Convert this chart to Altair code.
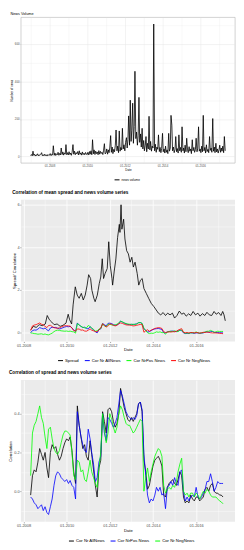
import altair as alt
import pandas as pd

FONT = "Liberation Sans"

# ---------------- data ----------------
# Panel 1: number of news, semi-monthly (1st and 15th of each month) from Jan 2007
news_volume = [
    4, 10, 3, 28, 6, 12, 2, 9, 5, 14, 3, 8, 6, 11, 20, 4, 9, 3, 12, 5, 8, 2, 10, 6,
    7, 15, 4, 12, 8, 57, 6, 18, 5, 14, 9, 22, 6, 16, 8, 45, 10, 24, 7, 19, 12, 63, 9, 20,
    8, 25, 10, 18, 6, 22, 63, 12, 28, 9, 20, 14, 26, 8, 30, 11, 19, 7, 24, 10, 17, 9, 21, 12,
    10, 22, 8, 26, 12, 30, 9, 89, 14, 35, 10, 28, 15, 24, 9, 31, 12, 27, 16, 22, 10, 33, 68, 14,
    18, 40, 12, 35, 20, 45, 111, 22, 50, 15, 38, 25, 60, 141, 30, 55, 20, 136, 28, 48, 35, 150, 40, 62,
    30, 75, 100, 45, 90, 216, 60, 300, 80, 140, 284, 70, 160, 454, 95, 130, 60, 110, 315, 75, 120, 50, 150, 40,
    85, 30, 60, 106, 25, 70, 40, 214, 35, 80, 28, 55, 45, 706, 30, 65, 22, 50, 38, 115, 26, 48, 20, 42,
    123, 25, 40, 18, 55, 22, 35, 15, 123, 28, 45, 219, 167, 30, 50, 20, 38, 106, 25, 42, 18, 115, 30, 48,
    22, 158, 30, 45, 18, 60, 25, 97, 35, 20, 52, 28, 40, 15, 89, 30, 48, 22, 36, 97, 25, 44, 158, 28,
    40, 20, 55, 25, 219, 30, 48, 18, 62, 26, 38, 20, 106, 32, 45, 22, 202, 28, 50, 20, 70, 24, 40, 18,
    35, 60, 22, 45, 28, 55, 20, 106, 30,
]

# Panel 2: mean spread (decimal year, value)
spread_year = [
    2008.34, 2008.46, 2008.59, 2008.73, 2008.87, 2009.01, 2009.10, 2009.20, 2009.31, 2009.42,
    2009.56, 2009.70, 2009.83, 2009.97, 2010.07, 2010.14, 2010.23, 2010.30, 2010.40, 2010.49,
    2010.58, 2010.68, 2010.77, 2010.86, 2010.95, 2011.02, 2011.11, 2011.17, 2011.26, 2011.32,
    2011.42, 2011.51, 2011.58, 2011.65, 2011.71, 2011.78, 2011.88, 2011.95, 2012.02, 2012.10,
    2012.13, 2012.20, 2012.28, 2012.36, 2012.44, 2012.47, 2012.52, 2012.56, 2012.64, 2012.70,
    2012.78, 2012.86, 2012.94, 2013.02, 2013.09, 2013.17, 2013.27, 2013.34, 2013.42, 2013.50,
    2013.58, 2013.69, 2013.80, 2013.92, 2014.04, 2014.15, 2014.25, 2014.36, 2014.47, 2014.58,
    2014.68, 2014.79, 2014.90, 2015.00, 2015.11, 2015.22, 2015.33, 2015.43, 2015.54, 2015.65,
    2015.75, 2015.86, 2015.97, 2016.08, 2016.18, 2016.29, 2016.40, 2016.50, 2016.61, 2016.72,
    2016.83, 2016.93, 2017.04, 2017.15, 2017.23, 2017.29, 2017.35,
]
spread_value = [
    0.12, 0.28, 0.23, 0.36, 0.31, 0.39, 0.79, 0.59, 0.48, 0.36,
    0.39, 0.28, 0.33, 0.43, 0.85, 0.59, 0.39, 1.29, 2.14, 1.75,
    1.60, 1.83, 1.52, 1.75, 2.22, 2.71, 2.53, 1.98, 1.60, 1.44,
    1.75, 2.29, 2.60, 3.46, 2.53, 2.76, 3.00, 4.26, 3.15, 2.53,
    2.22, 2.84, 3.45, 4.46, 5.08, 4.70, 6.00, 4.85, 5.32, 4.39,
    3.84, 3.69, 3.30, 3.53, 3.07, 3.30, 2.76, 2.22, 2.45, 2.53,
    2.06, 1.83, 1.60, 1.36, 1.21, 1.05, 0.90, 0.82, 0.93, 0.79,
    0.90, 0.82, 0.90, 0.67, 0.79, 1.00, 0.85, 0.91, 0.76, 0.87,
    0.79, 0.98, 0.82, 0.90, 0.76, 0.88, 0.79, 0.94, 0.82, 0.79,
    0.98, 0.85, 0.93, 0.79, 0.98, 0.82, 0.54,
]

# Correlations, monthly from May 2008
cor_allnews = [
    -0.02, 0.08, 0.11, 0.10, 0.15, 0.22, 0.19, 0.16, 0.20, 0.12, 0.07, 0.20,
    0.24, 0.22, 0.23, 0.19, 0.16, 0.18, 0.22, 0.25, 0.27, 0.26, 0.28, 0.21,
    0.10, 0.04, 0.44, 0.34, 0.28, 0.22, 0.24, 0.18, 0.16, 0.26, 0.19, 0.11,
    0.03, -0.03, 0.12, 0.16, 0.41, 0.36, 0.30, 0.42, 0.43, 0.41, 0.36, 0.33,
    0.35, 0.40, 0.53, 0.48, 0.43, 0.40, 0.37, 0.36, 0.38, 0.36, 0.38, 0.40,
    0.45, 0.46, 0.41, 0.16, 0.10, 0.01, 0.03, 0.08, 0.13, 0.16, 0.17, 0.18,
    0.16, 0.13, -0.02, -0.03, 0.02, 0.04, 0.05, 0.06, 0.04, 0.03, 0.06, 0.10,
    0.08, -0.03, -0.06, -0.05, -0.06, -0.02, -0.04, -0.05, -0.03, -0.03, -0.05, -0.04,
    -0.03, 0.01, 0.02, 0.00, 0.03, 0.04, 0.00, -0.01, -0.01, -0.02, -0.02, -0.03,
]
cor_nrpos = [
    -0.03, -0.04, -0.06, -0.07, -0.09, -0.08, -0.07, -0.10, -0.08, -0.11, -0.12, -0.08,
    -0.04, 0.03, 0.08, 0.10, 0.09, 0.07, 0.06, 0.05, 0.06, 0.04, 0.055, 0.03,
    0.02, -0.04, 0.41, 0.34, 0.28, 0.24, 0.21, 0.20, 0.32, 0.27, 0.20, 0.14,
    0.05, 0.07, 0.15, 0.18, 0.40, 0.30, 0.26, 0.38, 0.37, 0.35, 0.33, 0.35,
    0.38, 0.45, 0.52, 0.49, 0.45, 0.41, 0.39, 0.38, 0.37, 0.38, 0.37, 0.39,
    0.45, 0.46, 0.42, 0.19, 0.08, -0.02, -0.06, -0.04, -0.05, -0.02, 0.02, 0.00,
    0.02, -0.02, -0.01, -0.09, 0.02, 0.03, 0.05, 0.03, 0.07, 0.04, 0.03, 0.10,
    0.11, 0.00, -0.05, -0.03, -0.05, -0.03, -0.02, -0.03, 0.02, -0.03, -0.04, -0.03,
    -0.01, 0.01, 0.05, 0.05, 0.09, 0.05, 0.00, 0.02, 0.05, 0.04, 0.04, 0.04,
]
cor_negnews = [
    0.08, 0.30, 0.34, 0.36, 0.40, 0.44, 0.38, 0.35, 0.28, 0.22, 0.32, 0.33,
    0.27, 0.22, 0.20, 0.19, 0.21, 0.25, 0.29, 0.31, 0.31, 0.30, 0.29, 0.20,
    0.08, 0.06, 0.16, 0.15, 0.10, 0.11, 0.06, 0.05, 0.10, 0.16, 0.10, 0.07,
    0.04, 0.02, 0.12, 0.20, 0.40, 0.32, 0.25, 0.30, 0.40, 0.37, 0.33, 0.30,
    0.33, 0.40, 0.44, 0.42, 0.38, 0.35, 0.34, 0.34, 0.32, 0.30, 0.31, 0.33,
    0.35, 0.37, 0.36, 0.00, 0.07, 0.12, 0.05, 0.10, 0.14, 0.18, 0.20, 0.22,
    0.21, 0.18, 0.03, -0.01, 0.01, 0.02, 0.01, 0.03, 0.02, 0.05, 0.10, 0.14,
    0.17, 0.00, -0.02, -0.01, -0.03, -0.01, -0.01, -0.03, -0.01, -0.02, -0.04, -0.02,
    0.00, -0.01, 0.01, 0.00, -0.02, -0.03, -0.03, -0.03, -0.04, -0.05, -0.055, -0.065,
]

x_years_1 = [2007, 2008, 2009, 2010, 2011, 2012, 2013, 2014, 2015, 2016, 2017]
x_years_23 = [2008, 2009, 2010, 2011, 2012, 2013, 2014, 2015, 2016, 2017]
y_ticks_1 = [0, 100, 200, 300, 400, 500, 600, 700]
y_ticks_2 = [0, 1, 2, 3, 4, 5, 6]
y_ticks_3 = [-0.1, 0.0, 0.1, 0.2, 0.3, 0.4, 0.5]

names2 = ["Spread", "Cor Nr AllNews", "Cor NrPos News", "Cor Nr NegNews"]
colors2 = ["black", "#0000FF", "#00FF00", "#FF0000"]
names3 = ["Cor Nr AllNews", "Cor NrPos News", "Cor Nr NegNews"]
colors3 = ["black", "#0000FF", "#00FF00"]


def dec_year(dates):
    return list(dates.year + (dates.dayofyear - 1) / 365.25)


nv_dates = pd.date_range("2007-01-01", periods=len(news_volume), freq="SMS")
df1 = pd.DataFrame({"Date": dec_year(nv_dates), "value": news_volume, "series": "news volume"})


def monthly(vals, name):
    d = pd.date_range("2008-05-01", periods=len(vals), freq="MS")
    return pd.DataFrame({"Date": dec_year(d), "value": vals, "series": name})


cors = [monthly(cor_allnews, "Cor Nr AllNews"), monthly(cor_nrpos, "Cor NrPos News"),
        monthly(cor_negnews, "Cor Nr NegNews")]
df_spread = pd.DataFrame({"Date": spread_year, "value": spread_value, "series": "Spread"})
df2 = pd.concat([df_spread] + cors, ignore_index=True)
df3 = pd.concat(cors, ignore_index=True)

W = 216


def x_axis(lab, tit, tick_color, grid_color, major_w, minor_w, values):
    return alt.Axis(
        values=values, title="Date",
        labelExpr="datum.value % 2 == 0 ? '01-' + datum.value : ''",
        labelFontSize=lab, labelFont=FONT, labelColor="#4D4D4D", labelPadding=0.8,
        labelOverlap=False, labelFlush=False,
        tickSize=1, tickWidth=0.5, tickColor=tick_color,
        tickOpacity={"condition": {"test": "datum.value % 2 != 0", "value": 0}, "value": 1},
        grid=True, gridColor=grid_color,
        gridWidth={"condition": {"test": "datum.value % 2 != 0", "value": minor_w}, "value": major_w},
        domain=False, titleFontSize=tit, titleFont=FONT, titleFontWeight="normal",
        titleColor="black", titlePadding=0.8,
    )


def y_axis(title, lab, tit, tick_color, grid_color, major_w, minor_w, values, test, expr):
    return alt.Axis(
        values=values, title=title, labelExpr=expr,
        labelFontSize=lab, labelFont=FONT, labelColor="#4D4D4D", labelPadding=0.8,
        labelOverlap=False, labelFlush=False,
        tickSize=1, tickWidth=0.5, tickColor=tick_color,
        tickOpacity={"condition": {"test": test, "value": 0}, "value": 1},
        grid=True, gridColor=grid_color,
        gridWidth={"condition": {"test": test, "value": minor_w}, "value": major_w},
        domain=False, titleFontSize=tit, titleFont=FONT, titleFontWeight="normal",
        titleColor="black", titlePadding=0.8,
    )


def legend(size, lx, ly):
    return alt.Legend(
        title=None, orient="none", legendX=lx, legendY=ly, direction="horizontal",
        symbolType="stroke", symbolSize=25, symbolStrokeWidth=1,
        labelFontSize=size, labelFont=FONT, labelColor="black", labelOffset=1.5,
        columnPadding=3, padding=0, rowPadding=0, labelLimit=0,
    )


p1 = alt.Chart(
    df1,
    title=alt.TitleParams("News Volume", fontSize=3.8, fontWeight="normal", anchor="start",
                          font=FONT, color="black", offset=2),
    view=alt.ViewBackground(fill="white", stroke="#B3B3B3", strokeWidth=0.6),
).mark_line(strokeWidth=0.8, clip=True).encode(
    x=alt.X("Date:Q", scale=alt.Scale(domain=[2006.48, 2017.85], nice=False, zero=False),
            axis=x_axis(2.9, 3.0, "#B3B3B3", "#E6E6E6", 0.5, 0.3, x_years_1)),
    y=alt.Y("value:Q", scale=alt.Scale(domain=[-35, 742], nice=False),
            axis=y_axis("Number of news", 2.9, 3.0, "#B3B3B3", "#E6E6E6", 0.5, 0.3, y_ticks_1,
                        "datum.value % 200 != 0",
                        "datum.value % 200 == 0 ? '' + datum.value : ''")),
    color=alt.Color("series:N", scale=alt.Scale(domain=["news volume"], range=["black"]),
                    legend=legend(3.2, 94, 161)),
).properties(width=W, height=147)

p2 = alt.Chart(
    df2,
    title=alt.TitleParams("Correlation of mean spread and news volume series", fontSize=4.75,
                          fontWeight="bold", anchor="start", font=FONT, color="black", offset=5),
    view=alt.ViewBackground(fill="#EBEBEB", stroke=None),
).mark_line(strokeWidth=0.8, clip=True).encode(
    x=alt.X("Date:Q", scale=alt.Scale(domain=[2007.88, 2017.8], nice=False, zero=False),
            axis=x_axis(3.9, 4.2, "#333333", "white", 0.8, 0.4, x_years_23)),
    y=alt.Y("value:Q", scale=alt.Scale(domain=[-0.43, 6.24], nice=False),
            axis=y_axis("Spread/ Correlation", 3.9, 4.2, "#333333", "white", 0.8, 0.4, y_ticks_2,
                        "datum.value % 2 != 0",
                        "datum.value % 2 == 0 ? '' + datum.value : ''")),
    color=alt.Color("series:N", scale=alt.Scale(domain=names2, range=colors2),
                    legend=legend(4.3, 37, 159)),
    detail="series:N",
).properties(width=W, height=143)

p3 = alt.Chart(
    df3,
    title=alt.TitleParams("Correlation of spread and news volume series", fontSize=4.75,
                          fontWeight="bold", anchor="start", font=FONT, color="black", offset=5),
    view=alt.ViewBackground(fill="#EBEBEB", stroke=None),
).mark_line(strokeWidth=0.8, clip=True).encode(
    x=alt.X("Date:Q", scale=alt.Scale(domain=[2007.88, 2017.8], nice=False, zero=False),
            axis=x_axis(3.9, 4.2, "#333333", "white", 0.8, 0.4, x_years_23)),
    y=alt.Y("value:Q", scale=alt.Scale(domain=[-0.158, 0.573], nice=False),
            axis=y_axis("Correlation", 3.9, 4.2, "#333333", "white", 0.8, 0.4, y_ticks_3,
                        "round(datum.value * 10) % 2 != 0",
                        "round(datum.value * 10) % 2 == 0 ? format(datum.value, '.1f') : ''")),
    color=alt.Color("series:N", scale=alt.Scale(domain=names3, range=colors3),
                    legend=legend(4.3, 48, 159)),
    detail="series:N",
).properties(width=W, height=143)

chart = alt.vconcat(p1, p2, p3, spacing=7).properties(padding=0).resolve_scale(
    color="independent", x="independent", y="independent"
).configure(font=FONT)

chart.save("out.html", embed_options={"renderer": "svg", "actions": False})
